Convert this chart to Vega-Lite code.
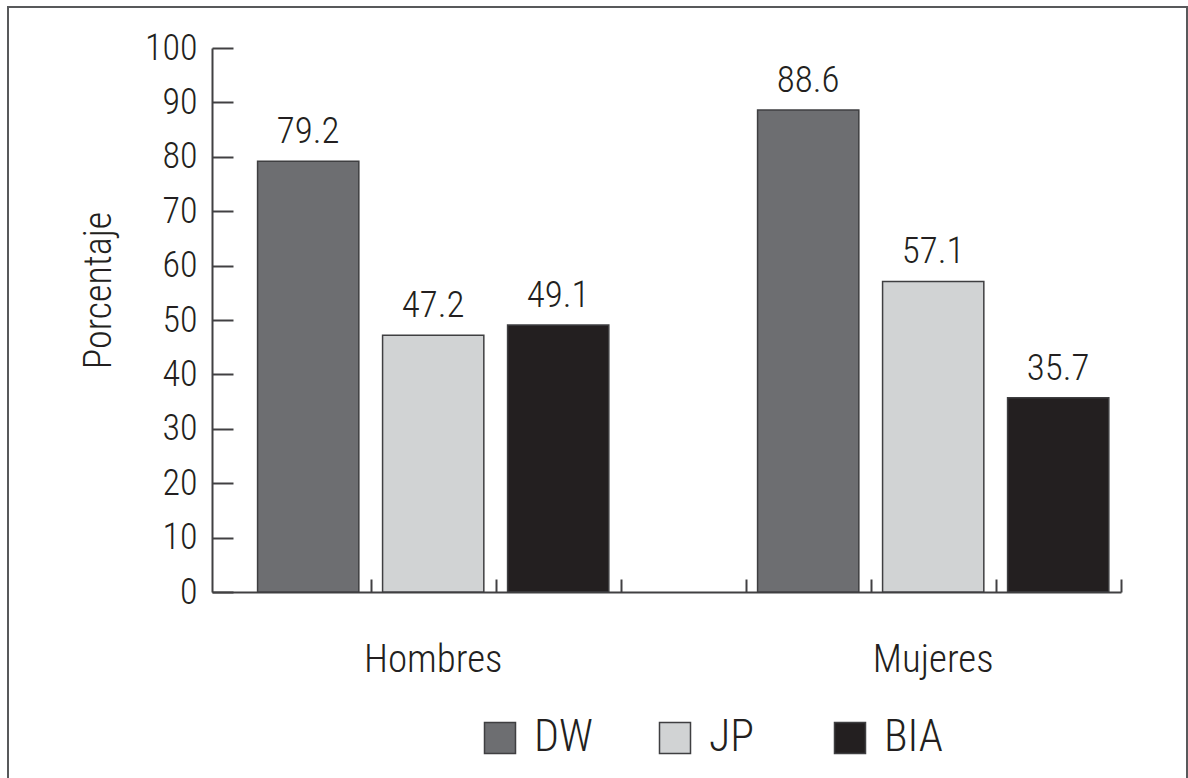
{
  "$schema": "https://vega.github.io/schema/vega-lite/v6.json",
  "width": 1179,
  "height": 772,
  "autosize": {"type": "none"},
  "padding": {"left": 8, "top": 7, "right": 1, "bottom": -1},
  "background": "white",
  "config": {
    "view": {"stroke": "#58595b", "strokeWidth": 2},
    "font": "Roboto Condensed, Liberation Sans Narrow, DejaVu Sans Condensed, sans-serif",
    "text": {"color": "#231f20"}
  },
  "data": {
    "values": [
      {"sexo": "Hombres", "metodo": "DW", "pct": 79.2},
      {"sexo": "Hombres", "metodo": "JP", "pct": 47.2},
      {"sexo": "Hombres", "metodo": "BIA", "pct": 49.1},
      {"sexo": "Mujeres", "metodo": "DW", "pct": 88.6},
      {"sexo": "Mujeres", "metodo": "JP", "pct": 57.1},
      {"sexo": "Mujeres", "metodo": "BIA", "pct": 35.7}
    ]
  },
  "encoding": {
    "y": {
      "field": "pct",
      "type": "quantitative",
      "scale": {"domain": [0, 100], "range": [585, 41], "nice": false, "zero": true},
      "axis": {
        "title": "Porcentaje",
        "offset": -204,
        "values": [0, 10, 20, 30, 40, 50, 60, 70, 80, 90, 100],
        "grid": false,
        "domainColor": "#414042",
        "domainWidth": 2,
        "tickColor": "#414042",
        "tickWidth": 2,
        "tickSize": -21,
        "labelPadding": 36,
        "labelFontSize": 36,
        "labelFontWeight": 300,
        "labelColor": "#231f20",
        "titleFontSize": 38,
        "titleFontWeight": 300,
        "titleColor": "#231f20",
        "titleAngle": -90,
        "titleAlign": "center",
        "titleBaseline": "alphabetic",
        "titleX": -102,
        "titleY": 283
      }
    }
  },
  "layer": [
    {
      "encoding": {
        "x": {
          "field": "sexo",
          "type": "nominal",
          "scale": {"type": "band", "domain": ["Hombres", "Mujeres"], "range": [237.7, 1112.7], "paddingInner": 0.25, "paddingOuter": 0},
          "axis": {
            "orient": "bottom",
            "offset": -187,
            "title": null,
            "domain": false,
            "ticks": false,
            "grid": false,
            "labelAngle": 0,
            "labelPadding": 79,
            "labelBaseline": "alphabetic",
            "labelFontSize": 39,
            "labelFontWeight": 300,
            "labelColor": "#231f20"
          }
        },
        "xOffset": {
          "field": "metodo",
          "type": "nominal",
          "scale": {"domain": ["DW", "JP", "BIA"], "paddingInner": 0.19, "paddingOuter": 0.095}
        }
      },
      "layer": [
        {
          "mark": {"type": "bar", "stroke": "#3f3f41", "strokeWidth": 1.5},
          "encoding": {
            "color": {
              "field": "metodo",
              "type": "nominal",
              "scale": {"domain": ["DW", "JP", "BIA"], "range": ["#6d6e71", "#d1d3d4", "#231f20"]},
              "legend": {
                "title": null,
                "orient": "none",
                "direction": "horizontal",
                "legendX": 470,
                "legendY": 709,
                "symbolType": "square",
                "symbolSize": 961,
                "symbolStrokeColor": "#3f3f41",
                "symbolStrokeWidth": 1.5,
                "symbolOpacity": 1,
                "labelFontSize": 44,
                "labelFontWeight": 300,
                "labelColor": "#231f20",
                "labelOffset": 12,
                "gridAlign": "all",
                "columnPadding": 60,
                "padding": 0
              }
            }
          }
        },
        {
          "mark": {"type": "text", "baseline": "alphabetic", "align": "center", "dy": -18, "fontSize": 37, "fontWeight": 300, "color": "#231f20"},
          "encoding": {
            "text": {"field": "pct", "type": "quantitative", "format": ".1f"}
          }
        }
      ]
    },
    {
      "mark": {"type": "rule", "opacity": 0},
      "encoding": {
        "x": {
          "datum": "t1",
          "type": "nominal",
          "scale": {"type": "band", "domain": ["t1", "t2", "t3", "t4", "t5", "t6", "t7"], "range": [204, 1113], "paddingInner": 0, "paddingOuter": 0.136, "align": 1},
          "axis": {
            "orient": "bottom",
            "offset": -187,
            "title": null,
            "labels": false,
            "grid": false,
            "domain": true,
            "domainColor": "#414042",
            "domainWidth": 2,
            "ticks": true,
            "bandPosition": 1,
            "tickSize": -13,
            "tickWidth": 2,
            "tickColor": "#414042"
          }
        },
        "y": {"datum": 0, "type": "quantitative"}
      }
    }
  ],
  "resolve": {"scale": {"x": "independent"}, "axis": {"x": "independent"}}
}
